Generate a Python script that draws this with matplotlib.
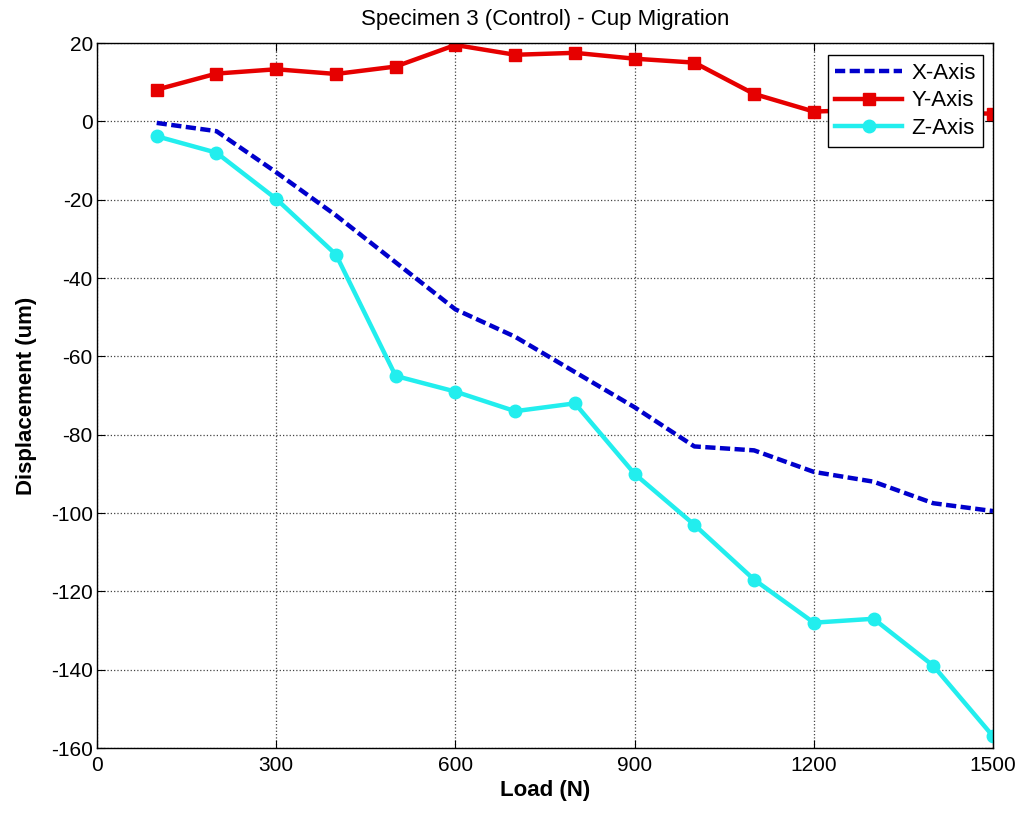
import numpy as np
import matplotlib
matplotlib.use('Agg')
import matplotlib.pyplot as plt

plt.rcParams['font.family'] = ['Liberation Sans', 'DejaVu Sans']
plt.rcParams['axes.unicode_minus'] = False

# Datos
load = [100, 200, 300, 400, 500, 600, 700, 800, 900, 1000, 1100, 1200, 1300, 1400, 1500]
x_axis = [-0.4, -2.5, -13, -24, -36, -48, -55, -64, -73, -83, -84, -89.5, -92, -97.5, -99.5]
y_axis = [8.1, 12.2, 13.3, 12.1, 14, 19.5, 17, 17.5, 16, 15, 7, 2.5, 3, 2, 2]
z_axis = [-3.8, -8, -19.8, -34, -65, -69, -74, -72, -90, -103, -117, -128, -127, -139, -157]

x_ticks = [0, 300, 600, 900, 1200, 1500]
y_ticks = list(range(-160, 21, 20))

fig = plt.figure(figsize=(10.23, 8.15), dpi=100)
ax = fig.add_axes([0.0948, 0.0822, 0.8759, 0.865])

ax.plot(load, x_axis, c='#0000CC', ls=(0, (2.3, 1.0)), lw=3.2, label='X-Axis')
ax.plot(load, y_axis, c='#E60000', lw=3.2, marker='s', ms=8, label='Y-Axis')
ax.plot(load, z_axis, c='#22EEEE', lw=3.2, marker='o', ms=9, label='Z-Axis')

ax.set_xlim(0, 1500)
ax.set_ylim(-160, 20)
ax.set_xticks(x_ticks)
ax.set_yticks(y_ticks)
ax.tick_params(direction='in', top=True, right=True, length=6, labelsize=15)
ax.tick_params(axis='x', pad=6)
ax.tick_params(axis='y', pad=3)
ax.grid(True, ls=':', c='#444444', lw=0.9)
for s in ax.spines.values():
    s.set_linewidth(1.0)

ax.set_title('Specimen 3 (Control) - Cup Migration', fontsize=16, pad=13)
ax.set_xlabel('Load (N)', fontsize=16, fontweight='bold', labelpad=3)
ax.set_ylabel('Displacement (um)', fontsize=16, fontweight='bold', labelpad=10)

leg = ax.legend(loc='upper right', bbox_to_anchor=(0.989, 0.983), borderaxespad=0,
                fontsize=16, handlelength=3.0, fancybox=False, framealpha=1,
                edgecolor='black', borderpad=0.35, labelspacing=0.3, handletextpad=0.4)
leg.get_frame().set_linewidth(1.0)

fig.savefig('out.png', dpi=100)
